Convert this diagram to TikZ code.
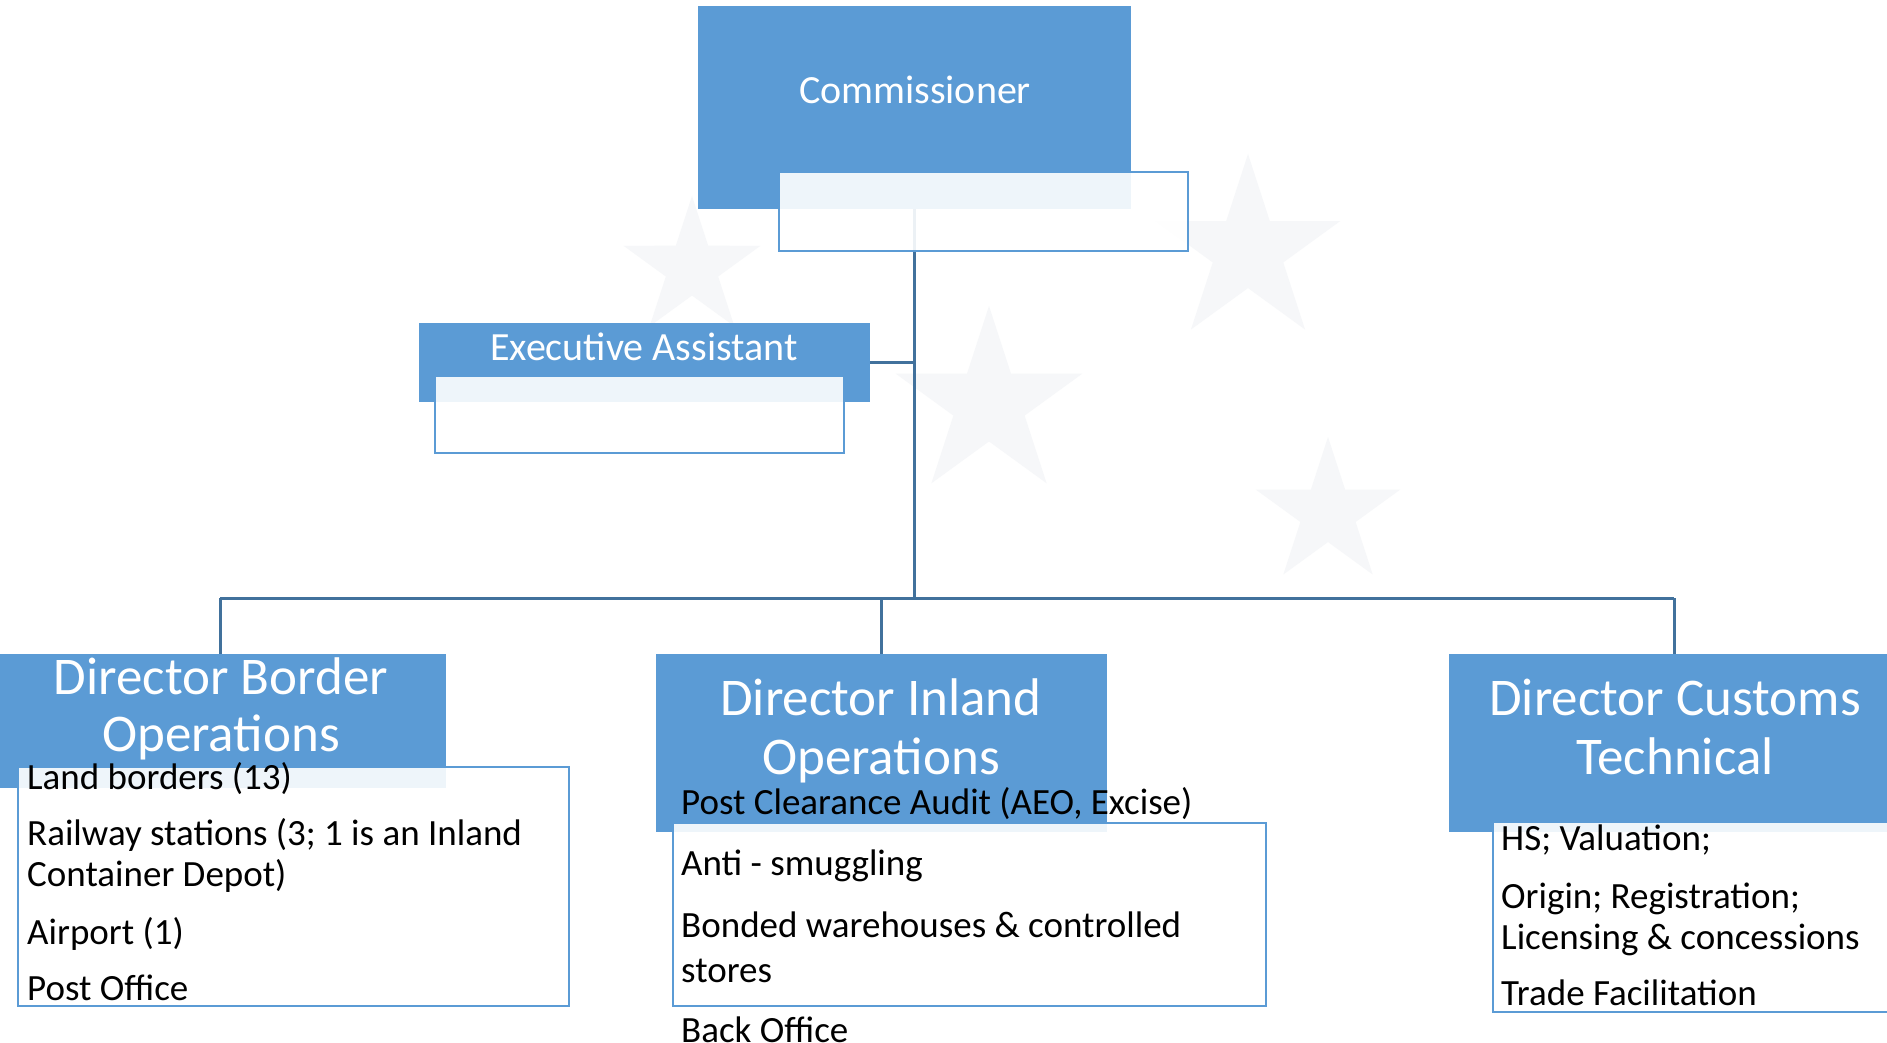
\documentclass[tikz,border=0pt]{standalone}
\usepackage{fontspec}
\setmainfont{Carlito}
\usetikzlibrary{shapes.geometric}
\definecolor{boxblue}{HTML}{5B9BD5}
\definecolor{linecol}{HTML}{41719C}
\definecolor{starcol}{HTML}{F6F7F9}
\begin{document}
\begin{tikzpicture}[x=1pt,y=-1pt,
  bluebox/.style={fill=boxblue, draw=none, inner sep=0pt, outer sep=0pt, anchor=north west},
  subbox/.style={draw=boxblue, line width=2.5pt, fill=white, fill opacity=0.9, inner sep=0pt, outer sep=0pt, anchor=north west},
  conn/.style={draw=linecol, line width=3pt},
  eustar/.style={star, star points=5, star point ratio=2.618, fill=starcol, draw=none, inner sep=0pt},
  head/.style={text=white, font=\fontsize{40}{48}\selectfont, anchor=base, inner sep=0pt},
  dirhead/.style={text=white, font=\fontsize{53}{59}\selectfont, anchor=base, inner sep=0pt},
  item/.style={text=black, font=\fontsize{37}{44}\selectfont, anchor=base west, inner sep=0pt}]
\useasboundingbox (0,0) rectangle (1887,1043);
\fill[white] (0,0) rectangle (1887,1043);
% background stars
\node[eustar, minimum size=144pt] (star1) at (692,268) {};
\node[eustar, minimum size=194pt] (star2) at (1248,251) {};
\node[eustar, minimum size=196pt] (star3) at (989,404) {};
\node[eustar, minimum size=152pt] (star4) at (1328,513) {};
% blue boxes
\node[bluebox, minimum width=433pt, minimum height=203pt] (comm) at (698,6) {};
\node[bluebox, minimum width=451pt, minimum height=79pt] (ea) at (419,323) {};
\node[bluebox, minimum width=446pt, minimum height=134pt] (db) at (0,654) {};
\node[bluebox, minimum width=451pt, minimum height=178pt] (di) at (656,654) {};
\node[bluebox, minimum width=450pt, minimum height=178pt] (dc) at (1449,654) {};
% connectors
\coordinate (hub) at (comm.south |- 0,598);
\coordinate (dbtop) at (220,654);
\draw[conn] (comm.south) -- (hub);
\draw[conn] (ea.east) -- (ea.east -| hub);
\draw[conn] (dbtop |- hub) -- (dc.north |- hub);
\draw[conn] (dbtop |- hub) -- (dbtop);
\draw[conn] (di.north |- hub) -- (di.north);
\draw[conn] (dc.north |- hub) -- (dc.north);
% sub boxes
\node[subbox, minimum width=409pt, minimum height=79pt] (commsub) at (779,172) {};
\node[subbox, minimum width=409pt, minimum height=77pt] (easub) at (435,376) {};
\node[subbox, minimum width=551pt, minimum height=239pt] (dbsub) at (18,767) {};
\node[subbox, minimum width=593pt, minimum height=183pt] (disub) at (673,823) {};
\node[subbox, minimum width=420pt, minimum height=190pt] (dcsub) at (1493,822) {};
% headings
\node[head] (commt) at (915,104) {Commissioner};
\node[head] (eat) at (644,360) {Executive Assistant};
\node[dirhead] (dbt1) at (221,694) {Director Border};
\node[dirhead] (dbt2) at (221,751) {Operations};
\node[dirhead] (dit1) at (881,715) {Director Inland};
\node[dirhead] (dit2) at (881,774) {Operations};
\node[dirhead] (dct1) at (1675,715) {Director Customs};
\node[dirhead] (dct2) at (1675,774) {Technical};
% items: border
\node[item] (b1) at (27,789) {Land borders (13)};
\node[item] (b2) at (27,845) {Railway stations (3; 1 is an Inland};
\node[item] (b2b) at (27,886) {Container Depot)};
\node[item] (b3) at (27,944) {Airport (1)};
\node[item] (b4) at (27,1000) {Post Office};
% items: inland
\node[item] (i1) at (681,814) {Post Clearance Audit (AEO, Excise)};
\node[item] (i2) at (681,875) {Anti - smuggling};
\node[item] (i3) at (681,937) {Bonded warehouses \& controlled};
\node[item] (i3b) at (681,982) {stores};
\node[item] (i4) at (681,1042) {Back Office};
% items: customs
\node[item] (c1) at (1501,850) {HS; Valuation;};
\node[item] (c2) at (1501,908) {Origin; Registration;};
\node[item] (c2b) at (1501,949) {Licensing \& concessions};
\node[item] (c3) at (1501,1005) {Trade Facilitation};
\end{tikzpicture}
\end{document}
